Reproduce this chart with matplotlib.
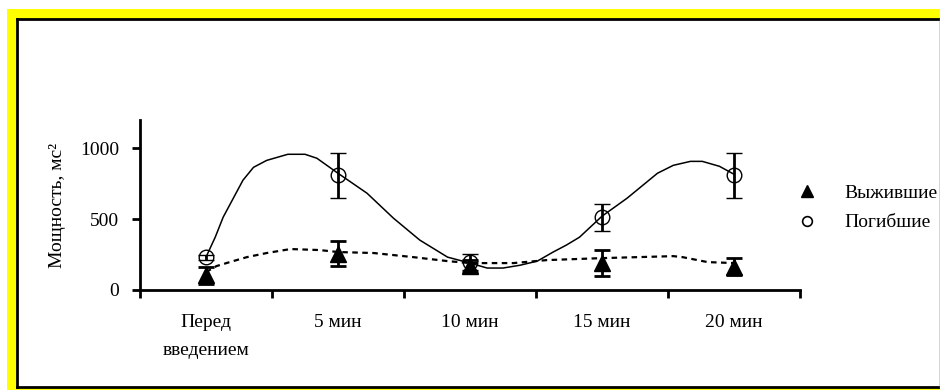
import matplotlib
matplotlib.use("Agg")
import matplotlib.pyplot as plt
from matplotlib.patches import Rectangle
from matplotlib.lines import Line2D

plt.rcParams['font.family'] = ['Liberation Serif', 'DejaVu Serif']

# categories and measured values
categories = ["Перед\nвведением", "5 мин", "10 мин", "15 мин", "20 мин"]
survived = [105, 255, 170, 190, 165]
survived_err = [60, 88, 40, 90, 60]
died = [230, 810, 195, 515, 810]
died_err = [20, 160, 56, 95, 160]

# trend curves (category position, value)
died_trend_x = [0.0, 0.07, 0.13, 0.28, 0.36, 0.46, 0.62, 0.75, 0.84, 1.0, 1.22, 1.42,
                1.62, 1.83, 2.0, 2.13, 2.25, 2.38, 2.51, 2.63, 2.73, 2.83, 3.0, 3.19,
                3.42, 3.54, 3.67, 3.76, 3.89, 4.0]
died_trend_y = [232, 373, 514, 775, 866, 915, 958, 958, 930, 824, 683, 507,
                352, 232, 190, 155, 155, 175, 204, 268, 317, 373, 521, 648,
                824, 880, 908, 908, 873, 817]
surv_trend_x = [0.0, 0.08, 0.18, 0.31, 0.46, 0.64, 0.86, 1.0, 1.27, 1.57, 1.83, 2.0,
                2.2, 2.33, 2.58, 3.0, 3.54, 3.61, 3.8, 4.0]
surv_trend_y = [127, 169, 197, 232, 261, 289, 282, 268, 261, 232, 204, 190,
                190, 190, 211, 225, 239, 232, 197, 190]

yticks = [0, 500, 1000]

W, H = 940, 390
FS = 14
fig = plt.figure(figsize=(W / 100, H / 100), dpi=100)
fig.patch.set_facecolor("white")

# yellow outer frame and white inner panel
fig.add_artist(Rectangle((7 / W, 0), 1 - 7 / W, (H - 9) / H,
                         transform=fig.transFigure, facecolor="#ffff00",
                         edgecolor="none", zorder=-10))
fig.add_artist(Rectangle((17 / W, (H - 387) / H), (939 - 17) / W, (387 - 19) / H,
                         transform=fig.transFigure, facecolor="white",
                         edgecolor="none", zorder=-9))
ff = fig.transFigure
fig.add_artist(Line2D([17 / W, 17 / W], [(H - 387) / H, (H - 19) / H], transform=ff,
                      color="black", lw=2.0, zorder=-8))
fig.add_artist(Line2D([17 / W, 1], [(H - 19) / H, (H - 19) / H], transform=ff,
                      color="black", lw=2.0, zorder=-8))
fig.add_artist(Line2D([17 / W, 939 / W], [(H - 387) / H, (H - 387) / H], transform=ff,
                      color="black", lw=2.0, zorder=-8))
fig.add_artist(Line2D([939.5 / W, 939.5 / W], [(H - 387) / H, (H - 19) / H], transform=ff,
                      color="#a0a0a0", lw=1.0, zorder=-8))

ax = fig.add_axes([140 / W, (H - 290) / H, (800 - 140) / W, (290 - 120) / H])
ax.set_facecolor("none")

n = len(categories)
xs = list(range(n))

ax.plot(died_trend_x, died_trend_y, color="black", lw=1.1, zorder=2)
ax.plot(surv_trend_x, surv_trend_y, color="black", lw=1.6,
        linestyle=(0, (2.5, 2.0)), zorder=2)

ax.errorbar(xs, survived, yerr=survived_err, fmt="^", color="black", ms=11,
            mfc="black", mec="black", elinewidth=2.0, capsize=6, capthick=2.0,
            zorder=3)
ax.errorbar(xs, died, yerr=died_err, fmt="o", color="black", ms=10.5,
            mfc="none", mec="black", mew=1.0, elinewidth=2.0, capsize=6,
            capthick=2.0, zorder=4)

ax.set_xlim(-0.5, n - 0.5)
ax.set_ylim(0, 1200)
ax.set_yticks(yticks)
ax.set_yticklabels([str(v) for v in yticks], fontsize=FS)
ax.set_xticks([i - 0.5 for i in range(n + 1)])
ax.set_xticklabels([])
ax.set_xticks(xs, minor=True)
ax.set_xticklabels(categories, minor=True, fontsize=FS, linespacing=1.85, va="top")
ax.tick_params(axis="x", which="minor", length=0, pad=17)
ax.tick_params(axis="x", which="major", direction="out", length=6, width=2.0)
ax.tick_params(axis="y", direction="out", length=6, width=2.0, pad=9)

for s in ("top", "right"):
    ax.spines[s].set_visible(False)
for s in ("left", "bottom"):
    ax.spines[s].set_linewidth(2.0)

ax.set_ylabel("Мощность, мс²", fontsize=FS, labelpad=10)

handles = [Line2D([], [], marker="^", color="black", ls="none", ms=9),
           Line2D([], [], marker="o", color="black", mfc="none", ls="none", ms=7, mew=1.2)]
fig.legend(handles, ["Выжившие", "Погибшие"], loc="center left",
           bbox_to_anchor=(778 / W, (H - 208) / H), frameon=False, fontsize=FS,
           handlelength=1.2, handletextpad=1.3, labelspacing=0.6)

fig.savefig("out.png", dpi=100)
